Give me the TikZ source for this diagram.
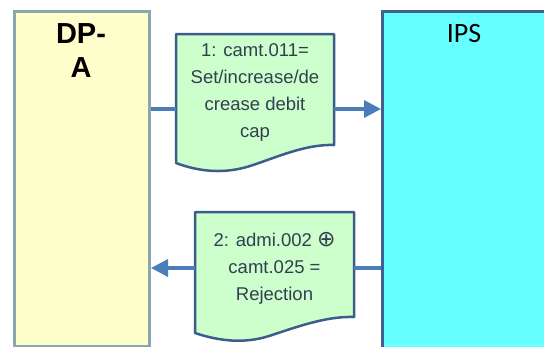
\documentclass[tikz,border=0pt]{standalone}
\usepackage{fontspec}
\setmainfont{Liberation Sans}
\newfontfamily\carlito{Carlito}
\newfontfamily\djv{DejaVu Sans}
\usetikzlibrary{arrows.meta}
\definecolor{dpafill}{HTML}{FFFFCC}
\definecolor{dpaborder}{HTML}{8CA6B0}
\definecolor{ipsfill}{HTML}{66FFFF}
\definecolor{ipsborder}{HTML}{41608F}
\definecolor{docfill}{HTML}{CCFFCC}
\definecolor{docborder}{HTML}{3C5C8C}
\definecolor{conncol}{HTML}{4A7EBB}
\definecolor{txtcol}{HTML}{333F50}
\tikzset{
  dpabox/.style={draw=dpaborder, fill=dpafill, line width=3pt, rectangle, inner sep=0, anchor=north west},
  ipsbox/.style={draw=ipsborder, fill=ipsfill, line width=3pt, rectangle, inner sep=0, anchor=north west},
  docshape/.style={draw=docborder, fill=docfill, line width=2.5pt, line join=round},
  conn/.style={draw=conncol, line width=3.5pt},
  connarrow/.style={conn, -{Triangle[length=17pt,width=17pt]}},
  msg/.style={font=\fontsize{18.5}{27}\selectfont, text=txtcol, align=center, inner sep=0}
}
\begin{document}
\begin{tikzpicture}[x=1pt,y=-1pt]
\useasboundingbox (0,0) rectangle (544,346);
\clip (0,0) rectangle (544,346);
\fill[white] (0,0) rectangle (544,346);
% participant boxes
\node[dpabox, minimum width=135pt, minimum height=335pt] (dpa) at (13,10) {};
\node[ipsbox, minimum width=180pt, minimum height=345pt] (ips) at (381,10) {};
\node[font=\bfseries\fontsize{29}{34}\selectfont, align=center, inner sep=0] (dpalabel) at (81,50.6) {DP-\\A};
\node[font=\carlito\fontsize{28}{34}\selectfont, inner sep=0, anchor=base] (ipslabel) at (464,42) {IPS};
% documents
\draw[docshape] (176,34) -- (334,34) -- (334,145)
  .. controls (305,144) and (275,158) .. (250,166)
  .. controls (225,174) and (200,172) .. (176,163) -- cycle;
\draw[docshape] (195,212) -- (354,212) -- (354,317)
  .. controls (325,316) and (294,328) .. (269,336)
  .. controls (244,344) and (219,341) .. (195,333) -- cycle;
\coordinate (d1w) at (176,109);
\coordinate (d1e) at (334,109);
\coordinate (d2w) at (195,268);
\coordinate (d2e) at (354,268);
\node[msg] (t1) at (255,92.8) {1: camt.011=\\Set/increase/de\\crease debit\\cap};
\node[msg] (t2) at (274.5,268.5) {2: admi.002 {\djv\fontsize{22}{27}\selectfont ⊕}\\camt.025 =\\Rejection};
% connectors
\draw[conn] (dpa.east |- d1w) -- (d1w);
\draw[connarrow] (d1e) -- (ips.west |- d1e);
\draw[conn] (ips.west |- d2e) -- (d2e);
\draw[connarrow] (d2w) -- (dpa.east |- d2w);
\end{tikzpicture}
\end{document}
